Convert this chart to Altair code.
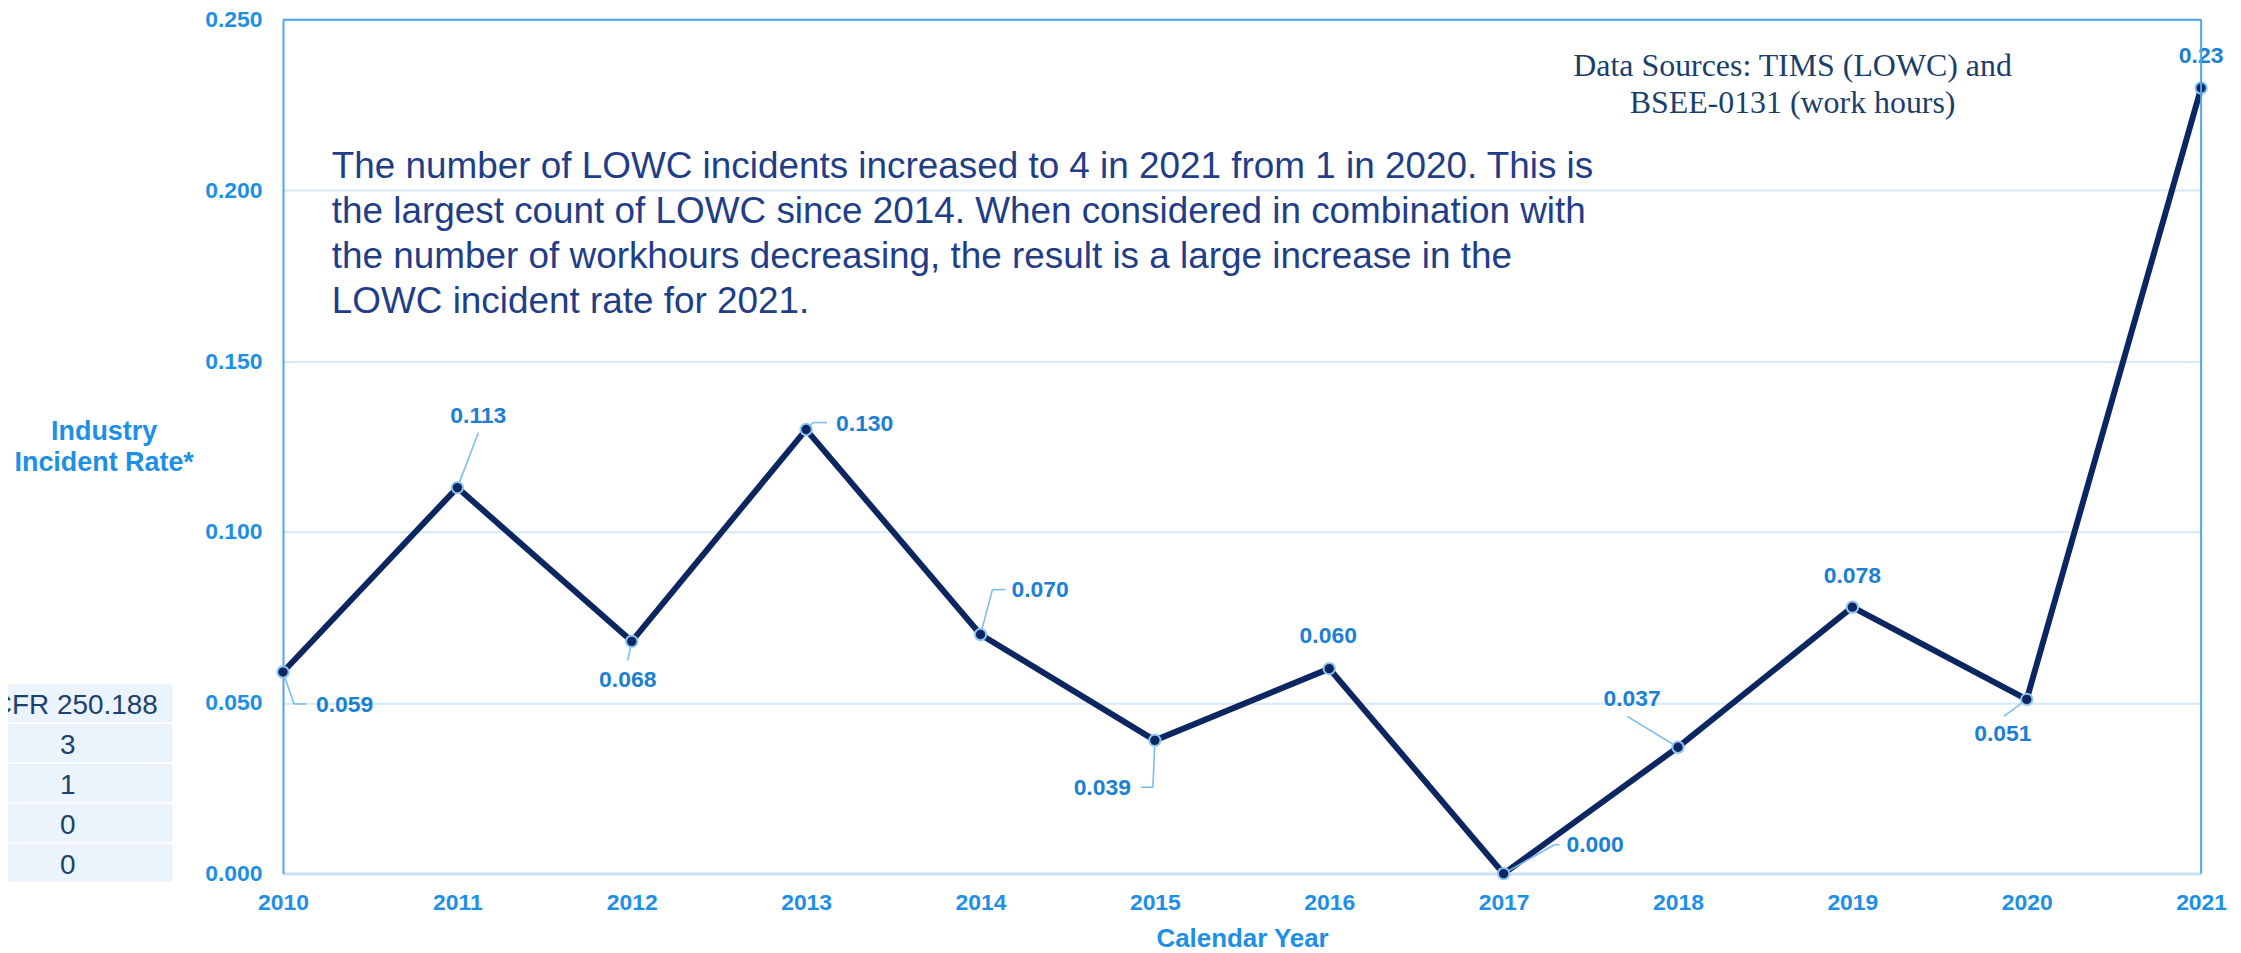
import altair as alt
import pandas as pd

# ---------------- data ----------------
years = [2010, 2011, 2012, 2013, 2014, 2015, 2016, 2017, 2018, 2019, 2020, 2021]
rates = [0.059, 0.113, 0.068, 0.130, 0.070, 0.039, 0.060, 0.000, 0.037, 0.078, 0.051, 0.23]
rate_labels = ["0.059", "0.113", "0.068", "0.130", "0.070", "0.039",
               "0.060", "0.000", "0.037", "0.078", "0.051", "0.23"]
y_ticks = [0.0, 0.05, 0.10, 0.15, 0.20, 0.25]
table_header = ["CFR 250.188"]
table_counts = ["3", "1", "0", "0"]
note_lines = [
    "The number of LOWC incidents increased to 4 in 2021 from 1 in 2020. This is",
    "the largest count of LOWC since 2014. When considered in combination with",
    "the number of workhours decreasing, the result is a large increase in the",
    "LOWC incident rate for 2021.",
]
source_lines = ["Data Sources: TIMS (LOWC) and", "BSEE-0131 (work hours)"]

# ---------------- layout / style ----------------
W, H = 1925, 857
PPX = W / (years[-1] - years[0])
PPY = H / 0.25

# label placement (align, dx px, dy px) relative to each point
label_place = [("left", 33, 33), ("center", 21, -72), ("center", -4, 39),
               ("left", 30, -6), ("left", 31, -45), ("right", -24, 48),
               ("center", -1, -33), ("left", 63, -29), ("center", -46, -48),
               ("center", 0, -31), ("center", -24, 35), ("center", 0, -32)]
# leader line vertices (px offsets from the point)
leaders = [[(11, 32), (23, 32)], [(21, -55)], [(-4, 19)], [(7, -7), (21, -7)],
           [(12, -45), (25, -45)], [(-2, 47), (-14, 47)], [], [(51, -29), (56, -29)],
           [(-51, -31)], [], [(-23, 17)], []]

FONT = "Liberation Sans"
TICK_C = "#1E8FE6"
LAB_C = "#1B7FD3"
LINE_C = "#0B2660"
LEAD_C = "#7DBDF0"
FRAME_C = "#4DA5EB"

df = pd.DataFrame({"year": years, "rate": rates, "label": rate_labels})
df["align"] = [p[0] for p in label_place]
df["lx"] = [y + p[1] / PPX for y, p in zip(years, label_place)]
df["ly"] = [r - p[2] / PPY for r, p in zip(rates, label_place)]

segs = []
for yr, rt, verts in zip(years, rates, leaders):
    pts = [(0, 0)] + verts
    for (a, b), (c, d) in zip(pts[:-1], pts[1:]):
        segs.append({"x": yr + a / PPX, "y": rt - b / PPY,
                     "x2": yr + c / PPX, "y2": rt - d / PPY})
seg_df = pd.DataFrame(segs)

xscale = alt.Scale(domain=[years[0], years[-1]], nice=False, zero=False)
yscale = alt.Scale(domain=[0, 0.25], nice=False, zero=True)

xaxis = alt.Axis(values=years, format="d", title="Calendar Year",
                 labelFont=FONT, labelFontSize=23, labelFontWeight="bold",
                 labelColor=TICK_C, labelPadding=18, labelFlush=False,
                 ticks=False, grid=False, domainColor="#C6E0F6", domainWidth=3,
                 titleFont=FONT, titleFontSize=26, titleFontWeight="bold",
                 titleColor=TICK_C, titleY=73, titleBaseline="alphabetic")
yaxis = alt.Axis(values=y_ticks, format=".3f", title=["Industry", "Incident Rate*"],
                 labelFont=FONT, labelFontSize=23, labelFontWeight="bold",
                 labelColor=TICK_C, labelPadding=21, ticks=False,
                 domainColor=FRAME_C, domainWidth=2,
                 grid=True, gridColor="#D5E9F9", gridWidth=2,
                 titleFont=FONT, titleFontSize=27, titleFontWeight="bold",
                 titleColor=TICK_C, titleAngle=0, titleAlign="center",
                 titleBaseline="middle", titleX=-180, titleY=413, titleLineHeight=31)

X = lambda f: alt.X(f, type="quantitative", scale=xscale, axis=xaxis)
Y = lambda f: alt.Y(f, type="quantitative", scale=yscale, axis=yaxis)

base = alt.Chart(df)

line = base.mark_line(color=LINE_C, strokeWidth=6).encode(x=X("year"), y=Y("rate"))

lead = alt.Chart(seg_df).mark_rule(color=LEAD_C, strokeWidth=1.6).encode(
    x=X("x"), y=Y("y"), x2="x2", y2="y2")

pts = base.mark_circle(size=130, fill=LINE_C, stroke="#8CC4F2", strokeWidth=2,
                       opacity=1).encode(x=X("year"), y=Y("rate"))

label_layers = []
for al in ["left", "center", "right"]:
    label_layers.append(
        alt.Chart(df[df["align"] == al]).mark_text(
            align=al, baseline="middle", font=FONT, fontSize=23,
            fontWeight="bold", color=LAB_C
        ).encode(x=X("lx"), y=Y("ly"), text="label:N"))

one = pd.DataFrame({"k": [0]})
frame_top = alt.Chart(one).mark_rule(color=FRAME_C, strokeWidth=2).encode(
    x=alt.value(0), x2=alt.value(W), y=alt.value(0))
frame_right = alt.Chart(one).mark_rule(color=FRAME_C, strokeWidth=2).encode(
    x=alt.value(W), y=alt.value(0), y2=alt.value(H))

note = alt.Chart(one).mark_text(
    text=note_lines, align="left", baseline="alphabetic", font=FONT,
    fontSize=37, lineHeight=45, color="#1F3E87"
).encode(x=alt.value(49), y=alt.value(159))

source = alt.Chart(one).mark_text(
    text=source_lines, align="center", baseline="alphabetic", font="Liberation Serif",
    fontSize=32, lineHeight=37, color="#1B3F6B"
).encode(x=alt.value(1515), y=alt.value(57))

main = alt.layer(line, lead, pts, *label_layers, frame_top, frame_right, note, source)

# left-hand table fragment
table_values = table_header + table_counts
tdf = pd.DataFrame({"row": list(range(len(table_values))), "val": table_values})
tdf["r0"] = tdf["row"] - 0.475
tdf["r1"] = tdf["row"] + 0.475
tscale = alt.Scale(domain=[0, len(table_values) - 1], range=[686, 846], nice=False, zero=False)
t_rect = alt.Chart(tdf).mark_rect(color="#EBF3FC").encode(
    x=alt.value(-276), x2=alt.value(-111),
    y=alt.Y("r0:Q", scale=tscale, axis=None), y2="r1:Q")
t_head = alt.Chart(tdf[tdf["row"] == 0]).mark_text(
    align="center", baseline="middle", font=FONT, fontSize=28, color="#1B416D", dy=3
).encode(x=alt.value(-209), y=alt.Y("row:Q", scale=tscale, axis=None), text="val:N")
t_text = alt.Chart(tdf[tdf["row"] > 0]).mark_text(
    align="center", baseline="middle", font=FONT, fontSize=28, color="#1B416D", dy=3
).encode(x=alt.value(-216), y=alt.Y("row:Q", scale=tscale, axis=None), text="val:N")
table = alt.layer(t_rect, t_head, t_text)

chart = alt.layer(main, table).resolve_scale(y="independent").properties(
    width=W, height=H,
    autosize=alt.AutoSizeParams(type="none"),
    padding={"left": 276, "top": 10, "right": 32, "bottom": 78},
).configure_view(strokeWidth=0)

chart.save("out.html", embed_options={"renderer": "svg", "actions": False})
